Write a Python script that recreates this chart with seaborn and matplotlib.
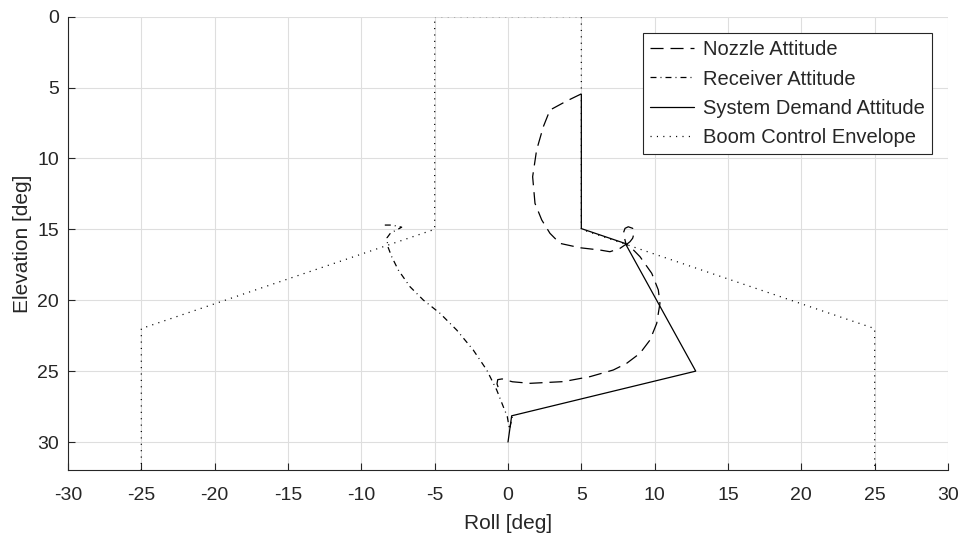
import matplotlib
matplotlib.use("Agg")
import matplotlib.pyplot as plt
import seaborn as sns
import pandas as pd

# ---- data (roll [deg], elevation [deg]) ----
nozzle_roll = [5.0, 4.0, 2.86, 2.41, 1.95, 1.68, 1.84, 2.30, 2.86, 3.54, 4.91, 6.27, 6.95,
               7.64, 8.05, 7.86, 7.98, 8.2, 8.5, 8.59, 8.5, 8.32, 8.09, 8.5, 9.0, 9.8,
               10.25, 10.36, 10.14, 9.68, 9.0, 8.09, 7.18, 5.59, 3.77, 1.5, 0.3, -0.4,
               -0.7, -0.75, -0.65]
nozzle_elev = [5.45, 5.95, 6.59, 7.76, 9.41, 11.29, 13.17, 14.34, 15.28, 15.99, 16.30, 16.46,
               16.58, 16.34, 16.05, 15.28, 14.93, 14.82, 14.93, 15.28, 15.63, 15.87, 16.06,
               16.4, 16.93, 18.1, 19.28, 20.22, 21.63, 22.81, 23.74, 24.45, 24.92, 25.39,
               25.74, 25.86, 25.75, 25.55, 25.6, 25.9, 26.2]

receiver_roll = [-8.4, -7.9, -7.25, -7.6, -8.0, -8.25, -8.2, -7.93, -7.48, -6.68, -5.77,
                 -4.64, -3.5, -2.37, -1.45, -0.77, -0.32, -0.05, 0.1, 0.3]
receiver_elev = [14.7, 14.7, 14.85, 15.05, 15.25, 15.6, 16.2, 16.93, 17.87, 19.05, 19.99,
                 20.92, 22.1, 23.51, 24.92, 26.33, 27.51, 28.2, 29.1, 28.2]

demand_roll = [5.0, 5.0, 8.0, 12.8, 0.25, 0.0]
demand_elev = [5.5, 14.95, 16.0, 25.0, 28.15, 30.0]

envelope_roll = [-25, -25, -5, -5, 5, 5, 25, 25]
envelope_elev = [32, 22, 15, 0, 0, 15, 22, 32]

series_names = ["Nozzle Attitude", "Receiver Attitude",
                "System Demand Attitude", "Boom Control Envelope"]
x_ticks = list(range(-30, 31, 5))
y_ticks = list(range(0, 31, 5))

# ---- style ----
sns.set_style("ticks")
plt.rcParams["font.family"] = ["Liberation Sans", "DejaVu Sans"]
plt.rcParams["lines.scale_dashes"] = False
plt.rcParams["axes.unicode_minus"] = False

fig = plt.figure(figsize=(9.63, 5.39), dpi=100)
ax = fig.add_axes([68 / 963, 1 - 470.4 / 539, 880 / 963, (470.4 - 16.6) / 539])

styles = [(0, (9.4, 5.0)), (0, (4.3, 2.9, 0.7, 2.9)), "-", (0, (0.8, 3.8))]
datasets = [(nozzle_roll, nozzle_elev), (receiver_roll, receiver_elev),
            (demand_roll, demand_elev), (envelope_roll, envelope_elev)]

for name, (xs, ys), ls in zip(series_names, datasets, styles):
    df = pd.DataFrame({"roll": xs, "elev": ys})
    sns.lineplot(data=df, x="roll", y="elev", sort=False, estimator=None,
                 color="black", linewidth=0.9, linestyle=ls, label=name, ax=ax)

ax.set_xlim(-30, 30)
ax.set_ylim(32, 0)
ax.set_xticks(x_ticks)
ax.set_yticks(y_ticks)
ax.grid(True, color="#dedede", linewidth=0.8)
ax.set_axisbelow(True)
for s in ["top", "right"]:
    ax.spines[s].set_visible(False)
for s in ["left", "bottom"]:
    ax.spines[s].set_color("#262626")
    ax.spines[s].set_linewidth(0.8)
ax.tick_params(direction="in", length=5, width=0.8, colors="#262626",
               labelsize=14, labelcolor="#262626")
ax.tick_params(axis="x", pad=12)
ax.tick_params(axis="y", pad=6.5)
ax.set_xlabel("Roll [deg]", fontsize=15, color="#262626", labelpad=7)
ax.set_ylabel("Elevation [deg]", fontsize=15, color="#262626", labelpad=4)

leg = ax.legend(loc="upper right", bbox_to_anchor=(0.9818, 0.963), fontsize=14.5,
                frameon=True, fancybox=False, framealpha=1, edgecolor="#262626",
                handlelength=2.2, handletextpad=0.45, borderpad=0.35, labelspacing=0.5,
                borderaxespad=0)
leg.get_frame().set_linewidth(0.8)

fig.savefig("out.png", dpi=100)
